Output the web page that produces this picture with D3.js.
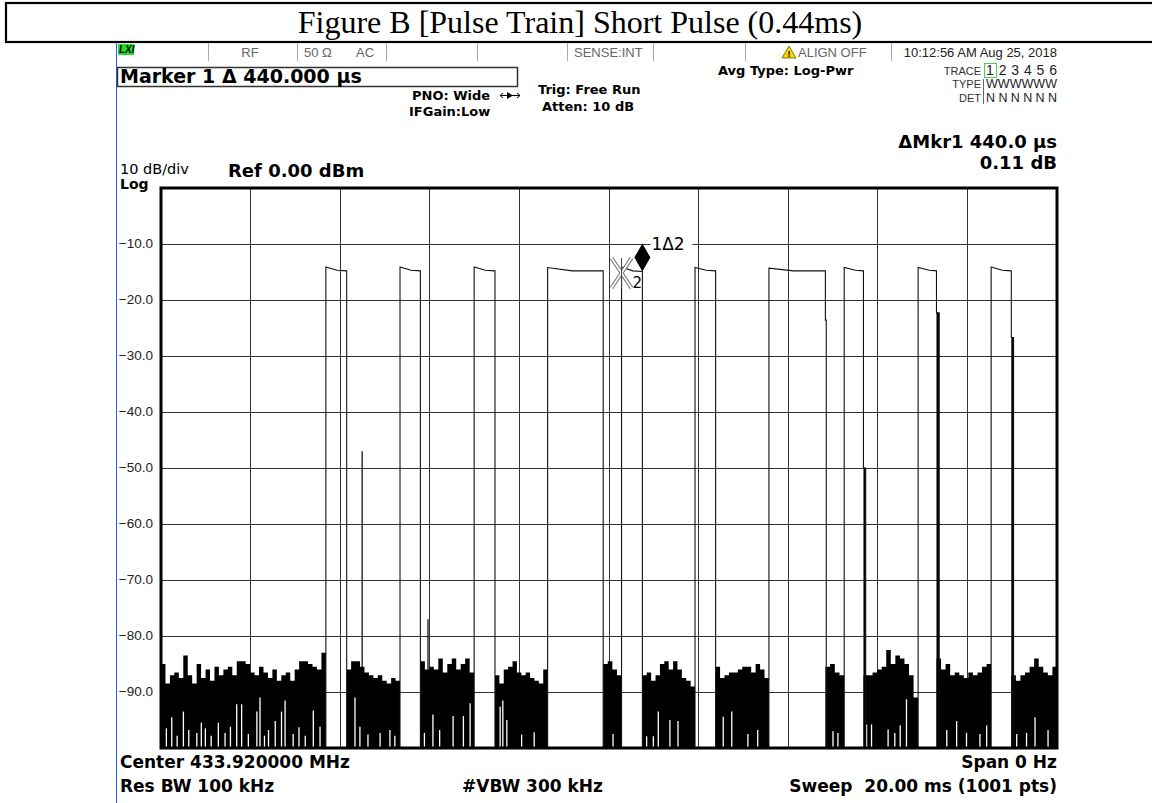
<!DOCTYPE html>
<html>
<head>
<meta charset="utf-8">
<script src="https://cdn.jsdelivr.net/npm/d3@7"></script>
<style>
  body { margin: 0; background: #fff; }
  svg { display: block; }
  text { white-space: pre; }
</style>
</head>
<body>
<svg id="chart" width="1152" height="803"></svg>
<script>
// sweep: 20 ms, 10 dB/div, ref 0 dBm
const sweepMs = 20;
const refLevel = 0;
const bottomLevel = -100;

// pulse edges (ms) and top levels (dBm)
const pulseStart = [3.68, 5.335, 6.99, 8.63, 10.28, 11.92, 13.57, 15.25, 16.90, 18.53];
const pulseEnd   = [4.145, 5.79, 7.455, 9.87, 10.745, 12.38, 14.83, 15.68, 17.31, 18.98];
const pulseHead  = [-14.1, -14.1, -14.1, -14.2, -14.1, -14.2, -14.3, -14.2, -14.2, -14.1];
const pulseKnee  = [3.93, 5.58, 7.24, 9.18, 10.53, 12.17, 14.12, 15.50, 17.15, 18.78];
const pulseKneeLevel = [-14.7, -14.7, -14.7, -14.8, -14.8, -14.7, -14.8, -14.7, -14.7, -14.7];
const pulseTail  = [-14.8, -14.8, -14.8, -14.8, -14.9, -14.8, -14.8, -14.8, -14.8, -14.8];
// last sample on the falling edge before it drops into the noise
const fallLevel  = [null, null, null, null, null, null, -23.6, -50, -22.3, -26.7];
const fallDur    = [0, 0, 0, 0, 0, 0, 0.02, 0.05, 0.06, 0.05];

// noise peaks in each gap between pulses (dBm), spread evenly across the gap
const noisePeaks = [
  [-85, -88.5, -87, -86.5, -87.5, -83.5, -87, -88.5, -85, -87.5, -86, -88, -85.5, -87, -86, -85.5, -87, -84.5, -84.5,
   -85, -86.5, -87, -85.5, -86.5, -87.5, -86, -88, -87, -86.5, -88, -86, -84.5, -84.5, -85, -85.5, -86, -83],
  [-86, -84.5, -84.5, -85.5, -86.5, -87, -87.5, -87, -88, -88.5, -87.5, -88],
  [-84.5, -86, -85.5, -86, -84, -86.5, -85, -84, -86, -85, -84, -86.5],
  [-87, -88.5, -86, -85.5, -84.5, -86.5, -87, -86.5, -87.5, -88, -88.5, -86],
  [-85, -84.5, -86, -87],
  [-87, -86.5, -88, -87, -85, -84.5, -86, -84.5, -86, -87.5, -88, -89],
  [-85.5, -87.5, -87, -86.5, -86.5, -86, -85.5, -85.5, -86.5, -85, -86, -87.5],
  [-85.5, -85, -86.5, -87],
  [-87, -87, -86.5, -86, -85.5, -82.5, -85, -83.5, -84, -85, -87, -91],
  [-84, -86, -85, -87, -86.5, -87, -87.5, -86.5, -87, -86.5, -85.5, -85],
  [-87, -88, -87, -86.5, -85.5, -84, -85.5, -86.5, -87, -85.5]
];

// white slits where the noise stays up for two samples: [ms, lowest dBm]
const noiseSlits = [
  [0.12, -96.5], [0.24, -94.5], [0.36, -97.8], [0.50, -93.5], [0.62, -96.8], [0.80, -97.3], [0.90, -95.5],
  [0.99, -96.5], [1.12, -97.8], [1.28, -95.5], [1.43, -97.3], [1.55, -96.2], [1.69, -92.2], [1.80, -92.2],
  [1.95, -97.5], [2.14, -93.5], [2.21, -91], [2.31, -97.8], [2.40, -96.8], [2.55, -95.2], [2.69, -93.5],
  [2.77, -91.5], [2.95, -97.5], [3.08, -96.3], [3.22, -97.8], [3.40, -93.3], [3.55, -96.2], [4.33, -91],
  [4.44, -96.2], [4.62, -97.6], [4.89, -97.3], [5.11, -96.8], [5.22, -97.8], [5.88, -97.3], [6.07, -94],
  [6.22, -96.8], [6.52, -94.3], [6.75, -94.3], [6.90, -92], [7.57, -92.6], [7.63, -91.5], [7.72, -95],
  [8.05, -97.6], [8.33, -97.2], [10.09, -97.5], [10.84, -97.9], [10.99, -97.9], [11.10, -93.5], [11.36, -95],
  [11.54, -95.2], [12.55, -94.4], [12.74, -93.5], [13.10, -97.5], [13.32, -96.8], [15.00, -97], [15.11, -97.3],
  [15.75, -95.8], [15.86, -95.8], [16.23, -96.7], [16.38, -97.3], [16.50, -96], [16.64, -91.3], [17.54, -96.8],
  [17.76, -95.2], [17.98, -97.3], [18.28, -97.5], [18.43, -96], [19.10, -97.5], [19.32, -97.3], [19.51, -94.5],
  [19.80, -96.8]
];

// single-sample spikes in the noise: [ms, dBm]
const noiseSpikes = [[4.49, -47], [5.96, -77]];

// markers
const marker1 = { t: 10.745, level: -14.9, label: '1\u03942' };
const marker2 = { t: 10.28, level: -15.0, label: '2' };

const svg = d3.select('#chart');
const x = d3.scaleLinear().domain([0, sweepMs]).range([161, 1057]);
const y = d3.scaleLinear().domain([refLevel, bottomLevel]).range([188, 748]);

const sans = 'DejaVu Sans, sans-serif';
const arial = 'Liberation Sans, Arial, sans-serif';

// ---- title box ----
svg.append('rect')
  .attr('x', 6).attr('y', 3).attr('width', 1160).attr('height', 39)
  .attr('fill', 'none').attr('stroke', '#000').attr('stroke-width', 2.2);
svg.append('text')
  .attr('x', 580).attr('y', 33)
  .attr('text-anchor', 'middle')
  .attr('font-family', 'Liberation Serif, Times New Roman, serif')
  .attr('font-size', 32)
  .text('Figure B [Pulse Train] Short Pulse (0.44ms)');

// left blue edge of the screenshot
svg.append('line')
  .attr('x1', 116.5).attr('x2', 116.5).attr('y1', 43).attr('y2', 803)
  .attr('stroke', '#2a5cff').attr('stroke-width', 1);

// ---- status bar ----
const statusY = 57;
svg.append('rect').attr('x', 118).attr('y', 44).attr('width', 16).attr('height', 11).attr('fill', '#22dd22');
svg.append('text').attr('x', 119).attr('y', 53).attr('font-family', arial).attr('font-size', 10)
  .attr('font-weight', 'bold').attr('font-style', 'italic').text('LXI');

const separators = [208, 297, 386, 477, 567, 653, 745, 891];
separators.forEach((sx) => {
  svg.append('line').attr('x1', sx + 0.5).attr('x2', sx + 0.5).attr('y1', 43).attr('y2', 61)
    .attr('stroke', '#aaa').attr('stroke-width', 1);
});

const statusTexts = [
  { x: 250, anchor: 'middle', text: 'RF' },
  { x: 304, anchor: 'start', text: '50 \u03A9' },
  { x: 356, anchor: 'start', text: 'AC' },
  { x: 574, anchor: 'start', text: 'SENSE:INT' },
  { x: 798, anchor: 'start', text: 'ALIGN OFF' },
  { x: 1057, anchor: 'end', text: '10:12:56 AM Aug 25, 2018' }
];
statusTexts.forEach((d) => {
  svg.append('text').attr('x', d.x).attr('y', statusY).attr('text-anchor', d.anchor)
    .attr('font-family', arial).attr('font-size', 13)
    .attr('fill', d.anchor === 'end' ? '#222' : '#666').text(d.text);
});
// warning triangle
svg.append('path').attr('d', 'M789,46 L796,58 L782,58 Z').attr('fill', '#f5d800').attr('stroke', '#6a5a00').attr('stroke-width', 0.8);
svg.append('text').attr('x', 789).attr('y', 57).attr('text-anchor', 'middle').attr('font-family', arial)
  .attr('font-size', 9).attr('font-weight', 'bold').text('!');

// ---- settings block ----
svg.append('rect').attr('x', 117.5).attr('y', 67.5).attr('width', 400).attr('height', 19)
  .attr('fill', '#fff').attr('stroke', '#333').attr('stroke-width', 1.5);
svg.append('text').attr('x', 120).attr('y', 83).attr('font-family', sans).attr('font-size', 19)
  .attr('font-weight', 'bold').text('Marker 1 \u0394 440.000 \u00B5s');

const settings = [
  { x: 412, y: 100, text: 'PNO: Wide' },
  { x: 409, y: 116, text: 'IFGain:Low' },
  { x: 538, y: 94, text: 'Trig: Free Run' },
  { x: 542, y: 111, text: 'Atten: 10 dB' },
  { x: 718, y: 75, text: 'Avg Type: Log-Pwr' }
];
settings.forEach((d) => {
  svg.append('text').attr('x', d.x).attr('y', d.y).attr('font-family', sans).attr('font-size', 13)
    .attr('font-weight', 'bold').text(d.text);
});
// PNO arrow
svg.append('path').attr('d', 'M500,95.5 H520 M500,95.5 l3,-2.5 M500,95.5 l3,2.5 M520,95.5 l-3,-2.5 M520,95.5 l-3,2.5')
  .attr('stroke', '#000').attr('fill', 'none').attr('stroke-width', 1);
svg.append('path').attr('d', 'M507,92 L513,95.5 L507,99 Z').attr('fill', '#000');

// trace table
const traceRows = [
  { label: 'TRACE', y: 75, value: '1 2 3 4 5 6' },
  { label: 'TYPE', y: 88, value: 'WWWWWW' },
  { label: 'DET', y: 102, value: 'N N N N N N' }
];
traceRows.forEach((d) => {
  svg.append('text').attr('x', 981).attr('y', d.y).attr('text-anchor', 'end').attr('font-family', arial)
    .attr('font-size', 11).attr('fill', '#333').text(d.label);
  svg.append('text').attr('x', 986).attr('y', d.y).attr('font-family', arial)
    .attr('font-size', d.label === 'TRACE' ? 14 : 12.5).attr('fill', '#222')
    .attr('textLength', 71).attr('lengthAdjust', d.label === 'TYPE' ? 'spacingAndGlyphs' : 'spacing')
    .text(d.value);
});
svg.append('rect').attr('x', 984.5).attr('y', 63.5).attr('width', 12).attr('height', 14)
  .attr('fill', 'none').attr('stroke', '#5c5').attr('stroke-width', 1);
svg.append('line').attr('x1', 983.5).attr('x2', 983.5).attr('y1', 79).attr('y2', 104)
  .attr('stroke', '#666').attr('stroke-width', 1);

// delta marker readout
svg.append('text').attr('x', 1057).attr('y', 148).attr('text-anchor', 'end').attr('font-family', sans)
  .attr('font-size', 18).attr('font-weight', 'bold').text('\u0394Mkr1 440.0 \u00B5s');
svg.append('text').attr('x', 1057).attr('y', 169).attr('text-anchor', 'end').attr('font-family', sans)
  .attr('font-size', 18).attr('font-weight', 'bold').text('0.11 dB');

// scale info
svg.append('text').attr('x', 120).attr('y', 174).attr('font-family', sans).attr('font-size', 14.5).text('10 dB/div');
svg.append('text').attr('x', 120).attr('y', 188.5).attr('font-family', sans).attr('font-size', 14)
  .attr('font-weight', 'bold').text('Log');
svg.append('text').attr('x', 228).attr('y', 177).attr('font-family', sans).attr('font-size', 18)
  .attr('font-weight', 'bold').text('Ref 0.00 dBm');

// ---- grid ----
const grid = svg.append('g').attr('shape-rendering', 'crispEdges');
x.ticks(10).filter((t) => t > 0 && t < sweepMs).forEach((t) => {
  grid.append('line').attr('x1', x(t)).attr('x2', x(t)).attr('y1', y(refLevel)).attr('y2', y(bottomLevel))
    .attr('stroke', '#333').attr('stroke-width', 1);
});
y.ticks(10).filter((v) => v < refLevel && v > bottomLevel).forEach((v) => {
  grid.append('line').attr('x1', x(0)).attr('x2', x(sweepMs)).attr('y1', y(v)).attr('y2', y(v))
    .attr('stroke', '#333').attr('stroke-width', 1);
  svg.append('text').attr('x', 153).attr('y', y(v) + 4).attr('text-anchor', 'end')
    .attr('font-family', arial).attr('font-size', 13.5).attr('fill', '#222')
    .text(d3.format('.1f')(v));
});

// ---- trace ----
const plot = svg.append('g');
const gapStart = noisePeaks.map((_, i) => (i === 0 ? 0 : pulseEnd[i - 1]));
const gapEnd = noisePeaks.map((_, i) => (i === pulseStart.length ? sweepMs : pulseStart[i]));

const noiseArea = d3.area()
  .x((d) => x(d[0]))
  .y0(y(bottomLevel))
  .y1((d) => y(d[1]))
  .curve(d3.curveStepAfter);

noisePeaks.forEach((peaks, i) => {
  const g0 = gapStart[i];
  const g1 = gapEnd[i];
  const pts = peaks.map((v, k) => [g0 + ((g1 - g0) * k) / peaks.length, v]);
  pts.push([g1, peaks[peaks.length - 1]]);
  plot.append('path').attr('d', noiseArea(pts)).attr('fill', '#000');
});

noiseSlits.forEach(([t, v]) => {
  plot.append('line').attr('x1', x(t)).attr('x2', x(t)).attr('y1', y(bottomLevel) - 1).attr('y2', y(v))
    .attr('stroke', '#fff').attr('stroke-width', 1.3);
});

noiseSpikes.forEach(([t, v]) => {
  plot.append('line').attr('x1', x(t)).attr('x2', x(t)).attr('y1', y(bottomLevel)).attr('y2', y(v))
    .attr('stroke', '#000').attr('stroke-width', 1.2);
});

const traceLine = d3.line().x((d) => x(d[0])).y((d) => y(d[1]));
pulseStart.forEach((s, i) => {
  const e = pulseEnd[i];
  const pts = [[s, bottomLevel], [s, pulseHead[i]], [pulseKnee[i], pulseKneeLevel[i]], [e, pulseTail[i]]];
  if (fallLevel[i] !== null) {
    pts.push([e, fallLevel[i]], [e + fallDur[i], fallLevel[i]], [e + fallDur[i], bottomLevel]);
    if (fallDur[i] > 0.03) {
      plot.append('rect').attr('x', x(e)).attr('y', y(fallLevel[i]))
        .attr('width', x(e + fallDur[i]) - x(e)).attr('height', y(bottomLevel) - y(fallLevel[i]))
        .attr('fill', '#000');
    }
  } else {
    pts.push([e, bottomLevel]);
  }
  plot.append('path').attr('d', traceLine(pts))
    .attr('fill', 'none').attr('stroke', '#111').attr('stroke-width', 1.1);
});

// ---- markers ----
const m2x = x(marker2.t);
const m2y = y(marker2.level) + 1;
const xPath = `M${m2x - 10},${m2y - 15} L${m2x + 10},${m2y + 15} M${m2x + 10},${m2y - 15} L${m2x - 10},${m2y + 15}`;
svg.append('path').attr('d', xPath).attr('stroke', '#777').attr('stroke-width', 4).attr('fill', 'none');
svg.append('path').attr('d', xPath).attr('stroke', '#fff').attr('stroke-width', 1.8).attr('fill', 'none');
svg.append('line').attr('x1', m2x).attr('x2', m2x).attr('y1', m2y - 15).attr('y2', m2y + 15)
  .attr('stroke', '#444').attr('stroke-width', 1);
svg.append('text').attr('x', m2x + 11).attr('y', m2y + 15).attr('font-family', sans).attr('font-size', 15)
  .text(marker2.label);

const m1x = x(marker1.t);
const m1y = y(marker1.level);
svg.append('rect').attr('x', m1x + 8).attr('y', m1y - 36).attr('width', 42).attr('height', 17).attr('fill', '#fff');
svg.append('path')
  .attr('d', `M${m1x},${m1y - 28} L${m1x + 8},${m1y - 14} L${m1x},${m1y} L${m1x - 8},${m1y - 14} Z`)
  .attr('fill', '#000');
svg.append('text').attr('x', m1x + 9).attr('y', m1y - 21).attr('font-family', sans).attr('font-size', 17)
  .text(marker1.label);

// ---- plot frame ----
svg.append('rect').attr('x', x(0)).attr('y', y(refLevel)).attr('width', x(sweepMs) - x(0))
  .attr('height', y(bottomLevel) - y(refLevel))
  .attr('fill', 'none').attr('stroke', '#000').attr('stroke-width', 3);

// ---- footer ----
const footer = [
  { x: 120, y: 768, anchor: 'start', text: 'Center 433.920000 MHz' },
  { x: 1057, y: 768, anchor: 'end', text: 'Span 0 Hz' },
  { x: 120, y: 792, anchor: 'start', text: 'Res BW 100 kHz' },
  { x: 462, y: 792, anchor: 'start', text: '#VBW 300 kHz' },
  { x: 1057, y: 792, anchor: 'end', text: 'Sweep  20.00 ms (1001 pts)' }
];
footer.forEach((d) => {
  svg.append('text').attr('x', d.x).attr('y', d.y).attr('text-anchor', d.anchor)
    .attr('font-family', sans).attr('font-size', 17).attr('font-weight', 'bold').text(d.text);
});
</script>
</body>
</html>
